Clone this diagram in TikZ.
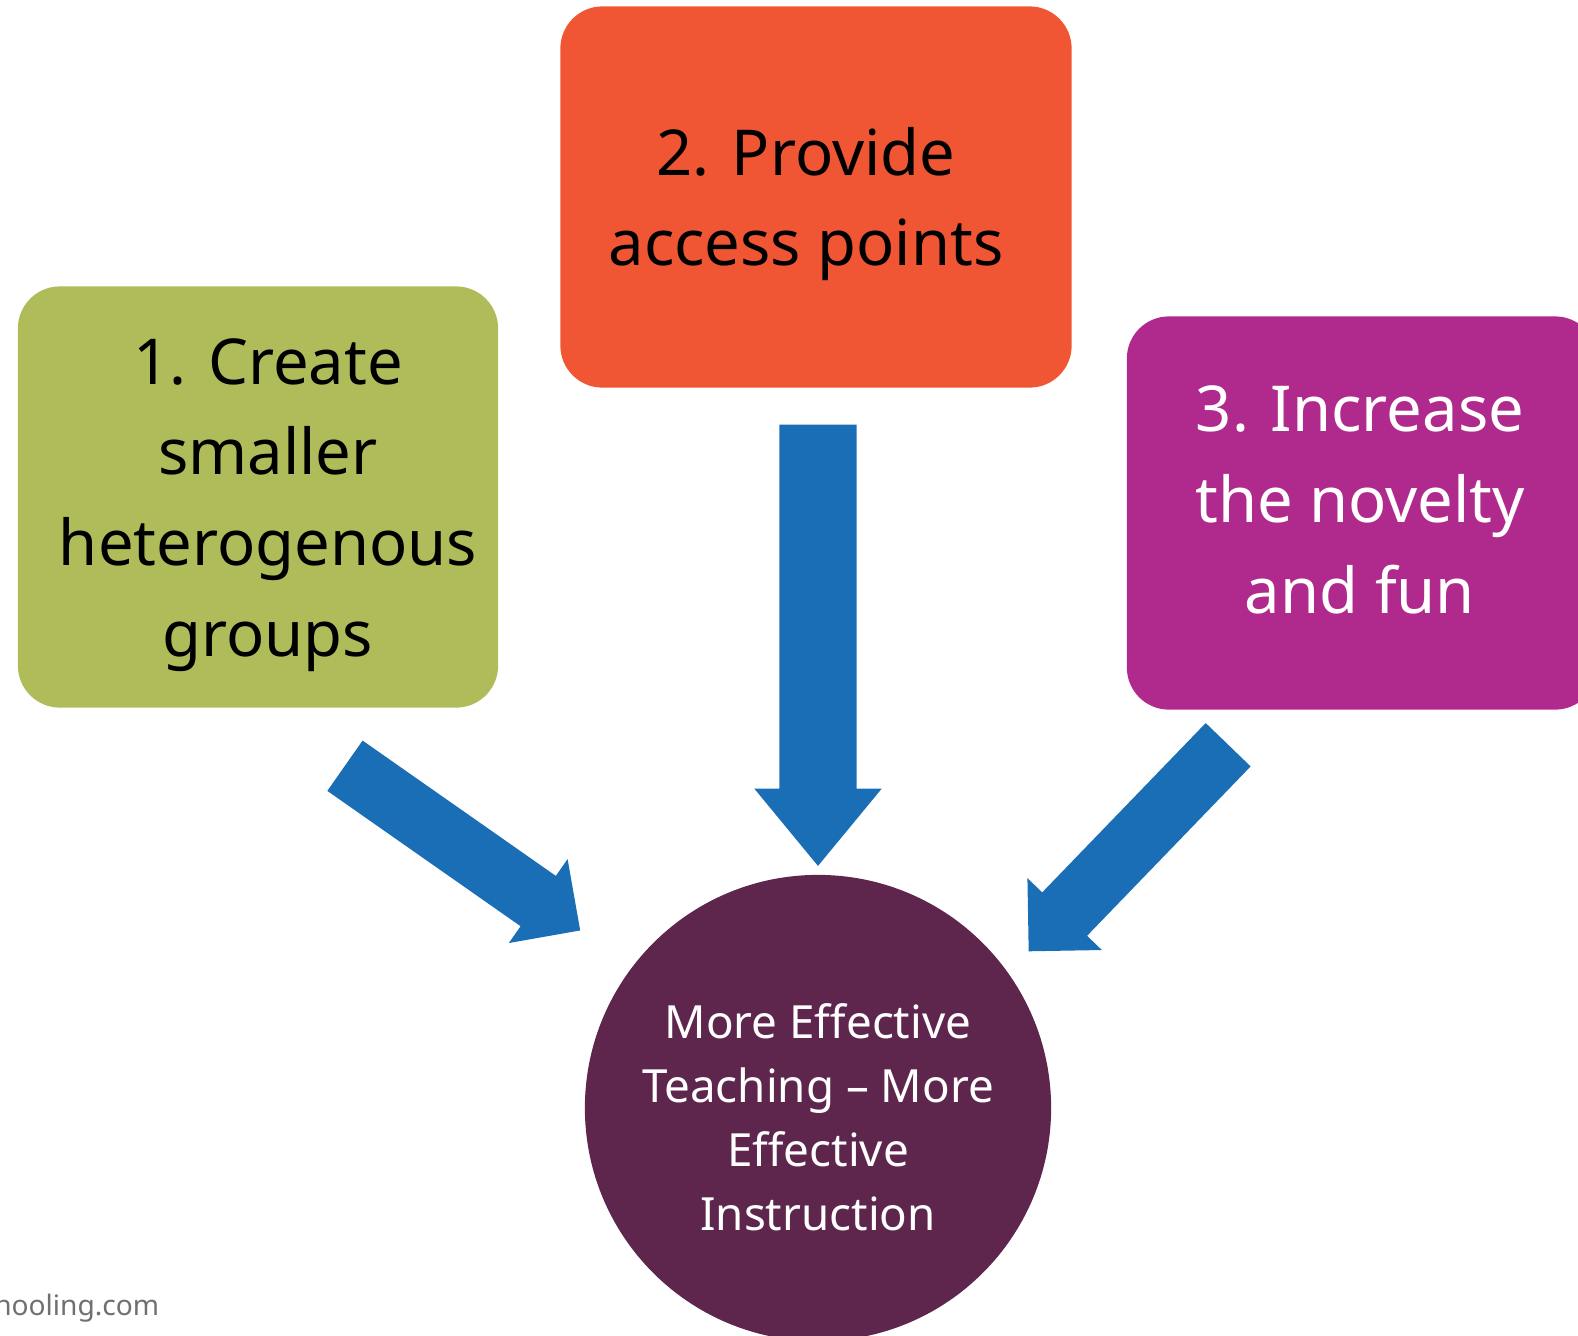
\documentclass[tikz,border=0pt]{standalone}
\usepackage{fontspec}
\setmainfont{Noto Sans}
\usetikzlibrary{shapes.arrows}

\definecolor{boxgreen}{RGB}{176,188,90}
\definecolor{boxorange}{RGB}{241,86,52}
\definecolor{boxpurple}{RGB}{176,42,142}
\definecolor{arrowblue}{RGB}{26,110,181}
\definecolor{goalplum}{RGB}{94,38,77}
\definecolor{sitegray}{RGB}{112,112,112}

\begin{document}
\begin{tikzpicture}[
        x=0.01cm, y=-0.01cm,
        box/.style={rectangle, rounded corners=0.42cm, inner sep=0pt},
        boxtext/.style={align=center, inner sep=0pt, font=\fontsize{18}{25.8}\selectfont},
        blockarrow/.style={single arrow, fill=arrowblue, inner xsep=0pt, single arrow head indent=0pt, anchor=tip},
        goal/.style={circle, fill=goalplum, inner sep=0pt, minimum size=4.66cm},
        goaltext/.style={align=center, inner sep=0pt, text=white, font=\fontsize{13}{18.2}\selectfont}
        ]
        \useasboundingbox (0,0) rectangle (1578,1335);
        \clip (0,0) rectangle (1578,1335);

        % Boxes
        \node[box, fill=boxgreen, minimum width=4.80cm, minimum height=4.21cm] (groups) at (258,497) {};
        \node[box, fill=boxorange, minimum width=5.11cm, minimum height=3.81cm] (access) at (816,197) {};
        \node[box, fill=boxpurple, minimum width=4.70cm, minimum height=3.93cm] (novelty) at (1362,513) {};

        % Box texts
        \node[boxtext] (groupsText) at (268,505) {1. Create\\smaller\\heterogenous\\groups};
        \node[boxtext] (accessText) at (806,204) {2. Provide\\access points};
        \node[boxtext, text=white] (noveltyText) at (1360,500) {3. Increase\\the novelty\\and fun};

        % Goal circle
        \node[goal] (goal) at (818,1108) {};
        \node[goaltext] (goalText) at (818,1117) {More Effective\\Teaching – More\\Effective\\Instruction};

        % Arrow tips
        \coordinate (tipL) at (581,931);
        \coordinate (tipM) at (818,867);
        \coordinate (tipR) at (1028,952);

        % Arrows
        \node[blockarrow, minimum height=2.87cm, inner ysep=0.30cm, single arrow head extend=0.205cm, single arrow tip angle=90, rotate=-35] (arrowL) at (tipL) {};
        \node[blockarrow, minimum height=4.41cm, inner ysep=0.38cm, single arrow head extend=0.25cm, single arrow tip angle=79, rotate=-90] (arrowM) at (tipM) {};
        \node[blockarrow, minimum height=2.87cm, inner ysep=0.305cm, single arrow head extend=0.205cm, single arrow tip angle=90, rotate=-134] (arrowR) at (tipR) {};

        % Site name
        \node[anchor=base east, text=sitegray, inner sep=0pt, font=\fontsize{8}{10}\selectfont] (site) at (160,1315) {hooling.com};
\end{tikzpicture}
\end{document}
